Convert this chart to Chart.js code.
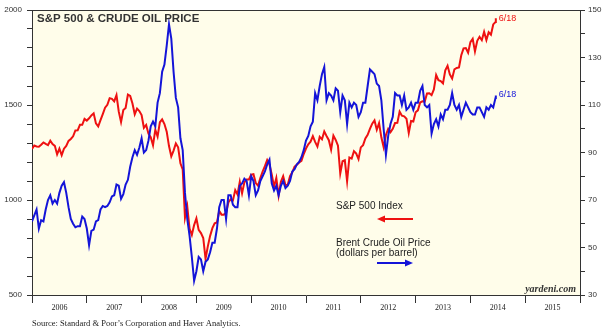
<!DOCTYPE html>
<html>
<head>
<meta charset="utf-8">
<script src="https://cdn.jsdelivr.net/npm/chart.js@4.4.0/dist/chart.umd.min.js"></script>
<style>
  body { margin: 0; background: #fff; }
  #chart { display: block; }
</style>
</head>
<body>
<canvas id="chart" width="612" height="333"></canvas>
<script>
// semi-monthly readings (1st and 15th), Jan 2006 .. Jun 2014, last one is 6/18/2014
const sp500 = [
  1268, 1287, 1282, 1280, 1291, 1303, 1295, 1289, 1312, 1294, 1285, 1240, 1270, 1236, 1270, 1285, 1311, 1321, 1335, 1366, 1367, 1396, 1396, 1427,
  1418, 1430, 1445, 1456, 1403, 1387, 1420, 1452, 1486, 1501, 1536, 1532, 1519, 1552, 1465, 1410, 1473, 1484, 1555, 1548, 1508, 1451, 1481, 1468,
  1447, 1380, 1395, 1349, 1331, 1288, 1370, 1334, 1409, 1424, 1400, 1360, 1284, 1230, 1260, 1298, 1277, 1193, 1161, 907, 966, 850, 816, 868,
  903, 843, 826, 800, 690, 756, 811, 852, 877, 882, 942, 923, 923, 932, 987, 1004, 998, 1052, 1029, 1096, 1036, 1093, 1108, 1108,
  1133, 1136, 1089, 1075, 1115, 1150, 1178, 1211, 1187, 1135, 1070, 1116, 1023, 1096, 1125, 1079, 1080, 1125, 1146, 1176, 1185, 1197, 1206, 1242,
  1271, 1293, 1307, 1336, 1306, 1281, 1332, 1319, 1361, 1337, 1315, 1265, 1339, 1316, 1286, 1140, 1204, 1209, 1099, 1224, 1218, 1257, 1244, 1215,
  1277, 1289, 1324, 1343, 1374, 1402, 1419, 1370, 1405, 1330, 1278, 1342, 1374, 1357, 1375, 1405, 1406, 1465, 1444, 1440, 1428, 1353, 1416, 1413,
  1462, 1472, 1513, 1520, 1518, 1561, 1562, 1552, 1582, 1658, 1631, 1626, 1614, 1682, 1706, 1661, 1639, 1688, 1695, 1698, 1762, 1798, 1800, 1775,
  1831, 1848, 1782, 1838, 1859, 1841, 1885, 1842, 1883, 1870, 1924, 1937, 1956
]
const brent = [
  61, 63.5, 66, 58, 61.5, 61, 66, 70, 72, 68.5, 70, 68.5, 73, 76, 77.5, 73, 67, 62, 60, 58.5, 59, 59, 63, 62,
  58, 51, 57, 57.5, 61, 61.5, 66, 67.5, 67, 67.5, 69, 71.5, 72, 76.5, 76, 70.5, 72.5, 76.5, 78.5, 84, 88, 91, 89, 92,
  96, 90, 91, 95, 101, 103, 101, 111, 115, 124, 127, 135, 144, 138, 124, 113, 109, 96, 91, 73, 62, 55, 46, 36,
  40, 46, 45, 40, 44, 45, 48, 52, 52, 58, 67, 70, 70, 62, 72, 72, 68, 67, 67, 76, 77, 79, 78, 72,
  80, 78, 72, 74, 78, 80, 82, 85, 87, 77, 74, 76, 72, 76, 78, 75, 76, 78, 82, 83, 85, 86, 88, 91,
  95, 97, 101, 103, 115, 112, 118, 123, 126, 112, 115, 114, 112, 117, 116, 107, 114, 112, 102, 111, 109, 111, 110, 105,
  107, 111, 111, 118, 125, 124, 123, 119, 118, 112, 100, 89, 97, 102, 105, 115, 114, 114, 110, 114, 108, 109, 111, 108,
  111, 111, 116, 118, 110, 109, 110, 98, 102, 104, 101, 106, 104, 108, 108, 110, 115, 110, 108, 110, 105, 108, 111, 109,
  107, 106, 106, 109, 109, 107, 105, 109, 108, 110, 109, 113, 114
]
const firstYear = 2006
const lastYear = 2016
const lastDate = 2014 + (5 + 17 / 30) / 12   // 6/18/2014
const lastLabel = '6/18'
const leftTicks = [500, 1000, 1500, 2000]
const rightTicks = [30, 50, 70, 90, 110, 130, 150]

const RED = '#ee1111'
const BLUE = '#1414d8'
const AXIS = '#333'

function toPoints(vals) {
  return vals.map((v, i) => ({ x: i === vals.length - 1 ? lastDate : firstYear + i / 24, y: v }))
}

Chart.defaults.font.family = '"Liberation Sans", Arial, sans-serif'

const bgPlugin = {
  id: 'bg',
  beforeDraw(chart) {
    const { ctx, chartArea: a } = chart
    ctx.save()
    ctx.fillStyle = '#fffdea'
    ctx.fillRect(a.left, a.top, a.right - a.left, a.bottom - a.top)
    ctx.restore()
  }
}

function arrow(ctx, x1, x2, y, color, pointLeft) {
  ctx.strokeStyle = color
  ctx.fillStyle = color
  ctx.lineWidth = 2
  ctx.beginPath()
  if (pointLeft) {
    ctx.moveTo(x1 + 6, y); ctx.lineTo(x2, y)
  } else {
    ctx.moveTo(x1, y); ctx.lineTo(x2 - 6, y)
  }
  ctx.stroke()
  ctx.beginPath()
  if (pointLeft) {
    ctx.moveTo(x1, y); ctx.lineTo(x1 + 8, y - 3.5); ctx.lineTo(x1 + 8, y + 3.5)
  } else {
    ctx.moveTo(x2, y); ctx.lineTo(x2 - 8, y - 3.5); ctx.lineTo(x2 - 8, y + 3.5)
  }
  ctx.closePath()
  ctx.fill()
}

const notesPlugin = {
  id: 'notes',
  afterDraw(chart) {
    const { ctx, chartArea: a } = chart
    ctx.save()
    // top frame line
    ctx.strokeStyle = AXIS
    ctx.lineWidth = 1
    ctx.beginPath()
    ctx.moveTo(a.left, a.top + 0.5)
    ctx.lineTo(a.right, a.top + 0.5)
    ctx.stroke()

    ctx.textBaseline = 'middle'
    ctx.fillStyle = '#333'
    ctx.font = 'bold 11.5px "Liberation Sans", Arial, sans-serif'
    ctx.fillText('S&P 500 & CRUDE OIL PRICE', 37, 19)

    // end labels
    ctx.font = '9px "Liberation Sans", Arial, sans-serif'
    const redEnd = chart.getDatasetMeta(1).data.at(-1)
    const blueEnd = chart.getDatasetMeta(0).data.at(-1)
    ctx.fillStyle = RED
    ctx.fillText(lastLabel, redEnd.x + 3, redEnd.y)
    ctx.fillStyle = BLUE
    ctx.fillText(lastLabel, blueEnd.x + 3, blueEnd.y - 1)

    // legend text + arrows
    ctx.fillStyle = '#222'
    ctx.font = '10px "Liberation Sans", Arial, sans-serif'
    ctx.fillText('S&P 500 Index', 336, 206)
    ctx.fillText('Brent Crude Oil Price', 336, 243)
    ctx.fillText('(dollars per barrel)', 336, 253)
    arrow(ctx, 377, 413, 219, RED, true)
    arrow(ctx, 377, 413, 263, BLUE, false)

    ctx.fillStyle = '#333'
    ctx.font = 'italic bold 10px "Liberation Serif", "Times New Roman", serif'
    ctx.textAlign = 'right'
    ctx.fillText('yardeni.com', 576, 289)

    ctx.textAlign = 'left'
    ctx.fillStyle = '#222'
    ctx.font = '8.5px "Liberation Serif", "Times New Roman", serif'
    ctx.fillText('Source: Standard & Poor\u2019s Corporation and Haver Analytics.', 32, 324)
    ctx.restore()
  }
}

new Chart(document.getElementById('chart'), {
  type: 'line',
  data: {
    datasets: [
      { label: 'Brent Crude Oil Price', data: toPoints(brent), yAxisID: 'y1', borderColor: BLUE, borderWidth: 2, pointRadius: 0, tension: 0 },
      { label: 'S&P 500 Index', data: toPoints(sp500), yAxisID: 'y', borderColor: RED, borderWidth: 2, pointRadius: 0, tension: 0 }
    ]
  },
  options: {
    responsive: false,
    animation: false,
    devicePixelRatio: 1,
    layout: { padding: { top: 10, left: 0, right: 0, bottom: 0 } },
    plugins: { legend: { display: false }, tooltip: { enabled: false } },
    scales: {
      x: {
        type: 'linear', min: firstYear, max: lastYear,
        afterFit(s) { s.height = 38 },
        ticks: {
          stepSize: 1, autoSkip: false, maxRotation: 0, labelOffset: 27.4, padding: 0,
          color: '#222', font: { family: '"Liberation Serif", "Times New Roman", serif', size: 8 },
          callback: v => v < lastYear ? String(v) : ''
        },
        grid: { drawOnChartArea: false, tickLength: 8, color: AXIS },
        border: { color: AXIS }
      },
      y: {
        position: 'left', min: 500, max: 2000,
        afterFit(s) { s.width = 32 },
        ticks: {
          stepSize: 100, padding: 5, color: '#333', font: { size: 8 },
          callback: v => leftTicks.includes(v) ? String(v) : ''
        },
        grid: { drawOnChartArea: false, tickLength: 5, color: AXIS },
        border: { color: AXIS }
      },
      y1: {
        position: 'right', min: 30, max: 150,
        afterFit(s) { s.width = 32 },
        ticks: {
          stepSize: 10, padding: 3, color: '#333', font: { size: 8 },
          callback: v => rightTicks.includes(v) ? String(v) : ''
        },
        grid: { drawOnChartArea: false, tickLength: 5, color: AXIS },
        border: { color: AXIS }
      }
    }
  },
  plugins: [bgPlugin, notesPlugin]
})
</script>
</body>
</html>
